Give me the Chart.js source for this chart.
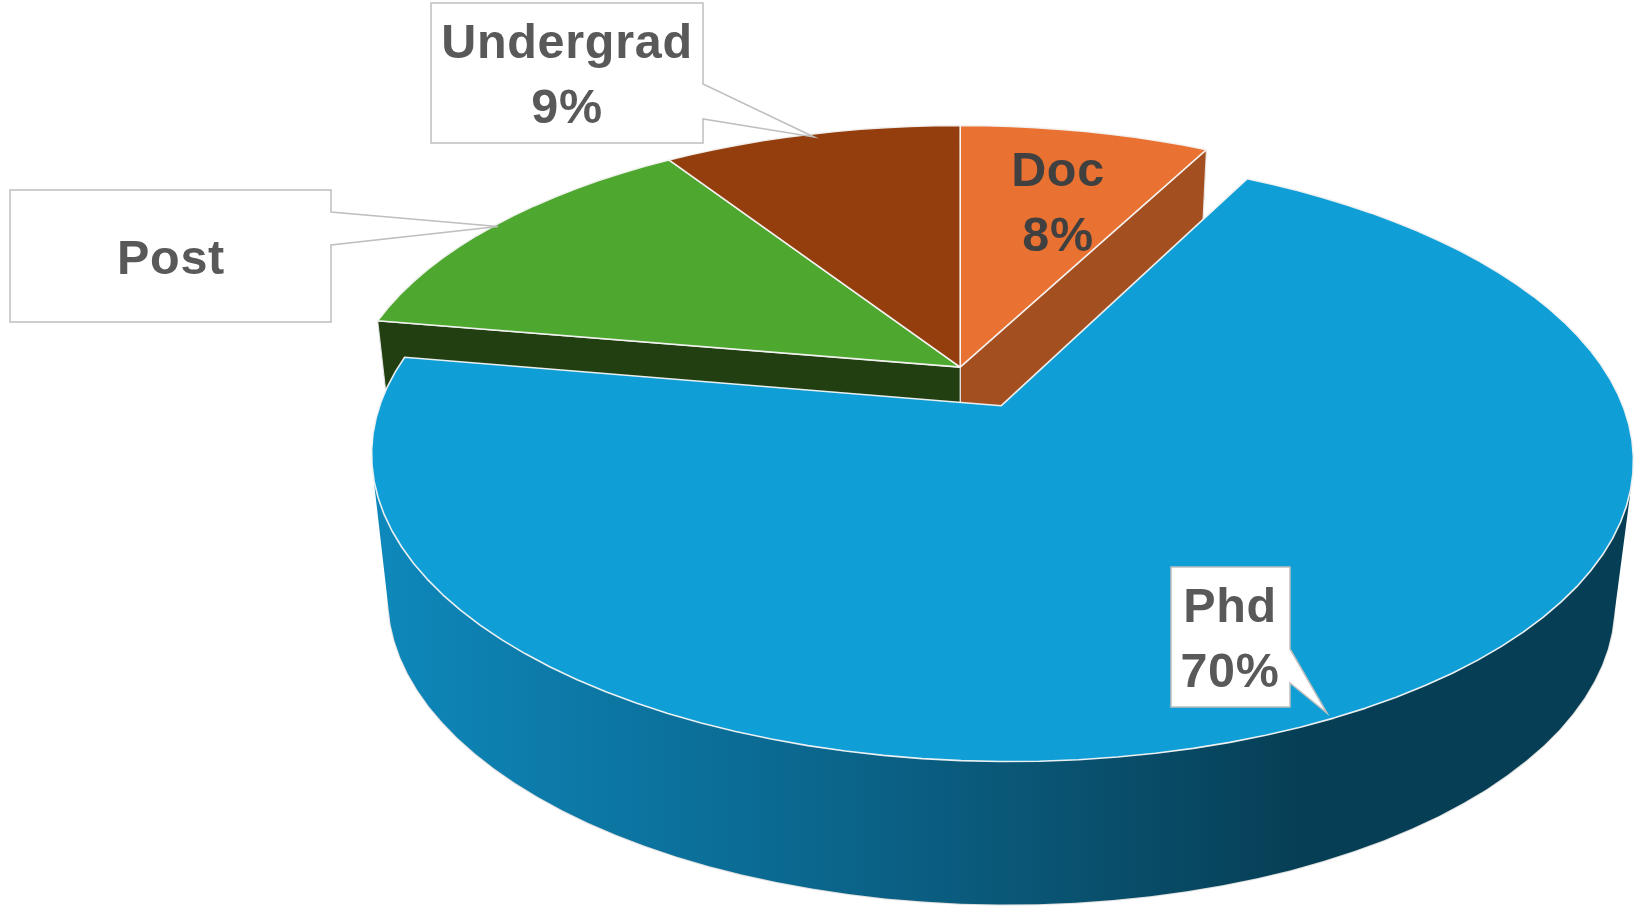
<!DOCTYPE html>
<html>
<head>
  <title>Pie chart</title>
  <script src="https://cdn.jsdelivr.net/npm/chart.js"></script>
  <style>
    html, body { margin: 0; padding: 0; background: #fff; }
    #wrap { width: 1640px; height: 909px; }
  </style>
</head>
<body>
  <div id="wrap"><canvas id="canvas" width="1640" height="909"></canvas></div>
  <script>
    var categories = ['Doc', 'Phd', 'Post', 'Undergrad'];
    var shares = [7.7, 70, 13.1, 9.2];
    var showPercent = [true, true, false, true];
    var explode = [0, 63, 0, 0];
    var topColors = ['#E97132', '#0F9ED5', '#4EA72E', '#943E0D'];
    var wallColors = ['#A34F20', '#0A6E95', '#213F10', '#6A2C09'];

    // camera used to lay the flat pie down, tuned by eye against the picture
    var cam = { cx: 960.2, cy: 367.1, rx: 607.7, ry: 282, k: 0.167, shrink: 0.028, depth: 143 };

    // label boxes, in page pixels
    var callouts = [
      { tx: 1058, base: [186, 251], color: '#404040' },
      { tx: 1230, base: [622, 687], color: '#595959', box: [1171, 567, 1290, 707],
        tail: [[1290, 649], [1327, 713], [1290, 683]] },
      { tx: 171, base: [274], color: '#595959', box: [10, 190, 331, 322],
        tail: [[331, 212], [498, 226.5], [331, 245]] },
      { tx: 567, base: [58, 123], color: '#595959', box: [431, 3, 703, 143],
        tail: [[703, 84], [814, 137], [703, 119]] }
    ];

    function project(u, v, z) {
      var w = 1 + cam.k * v;
      return { x: cam.cx + cam.rx * (1 - cam.shrink * z) * u / w, y: cam.cy - cam.ry * v / w + cam.depth * z };
    }

    function sliceGeom(arc) {
      var mid = (arc.startAngle + arc.endAngle) / 2;
      var d = (arc.options.offset || 0) / arc.outerRadius;
      return { u0: d * Math.cos(mid), v0: -d * Math.sin(mid), start: arc.startAngle, end: arc.endAngle };
    }

    function rim(g, a, z) {
      return project(g.u0 + Math.cos(a), g.v0 - Math.sin(a), z);
    }

    function arcPoints(g, z) {
      var pts = [];
      var n = Math.max(4, Math.ceil((g.end - g.start) / (Math.PI / 60)));
      for (var i = 0; i <= n; i++) pts.push(rim(g, g.start + (g.end - g.start) * i / n, z));
      return pts;
    }

    function tracePoly(ctx, pts) {
      pts.forEach(function (p, i) { i ? ctx.lineTo(p.x, p.y) : ctx.moveTo(p.x, p.y); });
      ctx.closePath();
    }

    function fillPoly(ctx, pts, fill, stroke, lw) {
      ctx.beginPath();
      tracePoly(ctx, pts);
      ctx.fillStyle = fill;
      ctx.fill();
      if (stroke) {
        ctx.lineJoin = 'round';
        ctx.strokeStyle = stroke;
        ctx.lineWidth = lw;
        ctx.stroke();
      }
    }

    function area(pts) {
      var s = 0;
      pts.forEach(function (p, i) {
        var q = pts[(i + 1) % pts.length];
        s += p.x * q.y - q.x * p.y;
      });
      return s;
    }

    function radialWall(g, a) {
      var c0 = project(g.u0, g.v0, 0), c1 = project(g.u0, g.v0, 1);
      return [c0, rim(g, a, 0), rim(g, a, 1), c1];
    }

    function phdGradient(ctx) {
      var grad = ctx.createLinearGradient(375, 0, 1300, 0);
      grad.addColorStop(0, '#0E88BB');
      grad.addColorStop(0.4, '#0B6C95');
      grad.addColorStop(0.7, '#0A5676');
      grad.addColorStop(1, '#063F55');
      return grad;
    }

    function drawWalls(ctx, arcs, i) {
      var g = sliceGeom(arcs[i]);
      var n = arcs.length;
      var off = arcs[i].options.offset || 0;
      var fill = off ? phdGradient(ctx) : wallColors[i];
      var top = arcPoints(g, 0), bottom = arcPoints(g, 1);

      // pale edge goes first so the wall hides it where it turns behind
      ctx.beginPath();
      bottom.forEach(function (p, j) { j ? ctx.lineTo(p.x, p.y) : ctx.moveTo(p.x, p.y); });
      ctx.strokeStyle = 'rgba(215,215,215,0.8)';
      ctx.lineWidth = 2;
      ctx.stroke();

      // one path of strips all wound the same way, a plain outline loses the
      // part beside the silhouette and separate fills leave seams
      ctx.beginPath();
      for (var s = 0; s < top.length - 1; s++) {
        var quad = [top[s], top[s + 1], bottom[s + 1], bottom[s]];
        tracePoly(ctx, area(quad) < 0 ? quad.reverse() : quad);
      }
      ctx.fillStyle = fill;
      ctx.fill('nonzero');

      // the cut faces show only where the neighbour has been pulled away
      var next = arcs[(i + 1) % n], prev = arcs[(i + n - 1) % n];
      var endWall = radialWall(g, g.end), startWall = radialWall(g, g.start);
      if ((next.options.offset || 0) !== off && area(endWall) > 0) fillPoly(ctx, endWall, fill, 'rgba(235,235,235,0.95)', 1.2);
      if ((prev.options.offset || 0) !== off && area(startWall) < 0) fillPoly(ctx, startWall, fill, 'rgba(235,235,235,0.95)', 1.2);
    }

    function drawTop(ctx, arcs, i) {
      var g = sliceGeom(arcs[i]);
      var pts = [project(g.u0, g.v0, 0)].concat(arcPoints(g, 0));
      fillPoly(ctx, pts, topColors[i], 'rgba(245,245,245,0.95)', 1.6);
    }

    function drawCallout(ctx, c, i) {
      if (c.box) {
        var b = c.box, t = c.tail;
        ctx.beginPath();
        ctx.moveTo(b[0], b[1]);
        ctx.lineTo(b[2], b[1]);
        ctx.lineTo(t[0][0], t[0][1]);
        ctx.lineTo(t[1][0], t[1][1]);
        ctx.lineTo(t[2][0], t[2][1]);
        ctx.lineTo(b[2], b[3]);
        ctx.lineTo(b[0], b[3]);
        ctx.closePath();
        ctx.fillStyle = '#fff';
        ctx.fill();
        ctx.strokeStyle = '#BFBFBF';
        ctx.lineWidth = 1.5;
        ctx.lineJoin = 'miter';
        ctx.stroke();
      }
      var lines = [categories[i]];
      if (showPercent[i]) lines.push(Math.round(shares[i]) + '%');
      ctx.font = 'bold 48.5px "Liberation Sans"';
      ctx.letterSpacing = '0.7px';
      ctx.textAlign = 'center';
      ctx.textBaseline = 'alphabetic';
      ctx.fillStyle = c.color;
      lines.forEach(function (s, j) { ctx.fillText(s, c.tx, c.base[j]); });
      ctx.letterSpacing = '0px';
    }

    var pie3d = {
      id: 'pie3d',
      beforeDatasetDraw: function () { return false; },
      afterDatasetsDraw: function (chart) {
        var ctx = chart.ctx;
        var arcs = chart.getDatasetMeta(0).data;
        var back = [], front = [];
        arcs.forEach(function (arc, i) { (arc.options.offset ? front : back).push(i); });
        ctx.save();
        back.forEach(function (i) { drawWalls(ctx, arcs, i); });
        back.forEach(function (i) { drawTop(ctx, arcs, i); });
        front.forEach(function (i) { drawWalls(ctx, arcs, i); drawTop(ctx, arcs, i); });
        callouts.forEach(function (c, i) { drawCallout(ctx, c, i); });
        ctx.restore();
      }
    };

    new Chart(document.getElementById('canvas').getContext('2d'), {
      type: 'pie',
      data: {
        labels: categories,
        datasets: [{ data: shares, backgroundColor: topColors, offset: explode, hoverOffset: 0 }]
      },
      options: {
        responsive: false,
        animation: false,
        events: [],
        plugins: { legend: { display: false }, tooltip: { enabled: false } }
      },
      plugins: [pie3d]
    });
  </script>
</body>
</html>
